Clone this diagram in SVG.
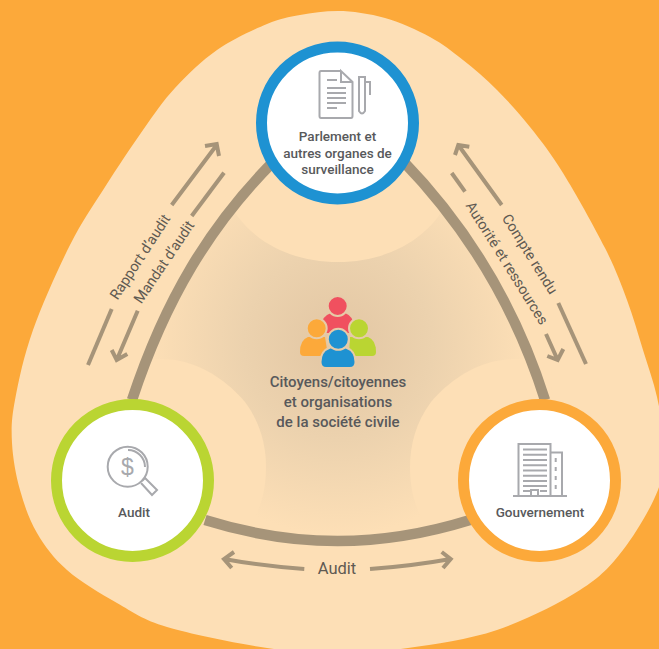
<svg xmlns="http://www.w3.org/2000/svg" width="659" height="649" viewBox="0 0 659 649">
<style>
.t{font-family:Roboto,"Noto Sans","Liberation Sans",sans-serif;fill:#58595b;text-anchor:middle}
.n{font-size:13.5px;font-weight:500}
.c{font-size:15px;font-weight:500}
.l{font-size:14.5px;fill:#5f5a52}
.a{fill:none;stroke:#a69479;stroke-width:4}
.b{fill:none;stroke:#a69479;stroke-width:10.5}
.i{fill:none;stroke:#a8a9ad;stroke-width:2}
.r{fill:#fff;stroke-width:11}
</style>
<defs>
<radialGradient id="g" gradientUnits="userSpaceOnUse" cx="338" cy="345" r="190">
<stop offset="0" stop-color="#e2c6a3"/>
<stop offset="0.5" stop-color="#ecd2ae"/>
<stop offset="1" stop-color="#fddfb6"/>
</radialGradient>
</defs>
<rect width="659" height="649" fill="#fca93a"/>
<path id="backdrop" fill="#fddfb6" d="M338,11 C352,11 369.700,13.700 385,18 C400.300,22.300 417,30 430,37 C443,44 451.800,51.200 463,60 C474.200,68.800 485.800,78.800 497,90 C508.200,101.200 519,113.200 530,127 C541,140.800 550.500,152.800 563,173 C575.500,193.200 594.300,226.800 605,248 C615.700,269.200 620.700,283 627,300 C633.300,317 638,333.800 643,350 C648,366.200 653.500,381.200 657,397 C660.500,412.800 663.800,429.500 664,445 C664.200,460.500 664.800,472.500 658,490 C651.200,507.500 636,533.300 623,550 C610,566.700 601,576.700 580,590 C559,603.300 525.700,620.300 497,630 C468.300,639.700 434.500,644.200 408,648 C381.500,651.800 361.500,653 338,653 C314.500,653 295.500,652.300 267,648 C238.500,643.700 192,634.500 167,627 C142,619.500 133.700,612.500 117,603 C100.300,593.500 80.300,581.700 67,570 C53.700,558.300 44.800,546.300 37,533 C29.200,519.700 24.200,505 20,490 C15.800,475 12.800,458 12,443 C11.200,428 11.500,418.800 15,400 C18.500,381.200 23.800,355.800 33,330 C42.200,304.200 58,268.800 70,245 C82,221.200 92.800,206.200 105,187 C117.200,167.800 131.300,146.500 143,130 C154.700,113.500 162.700,101.300 175,88 C187.300,74.700 201.700,60.700 217,50 C232.300,39.300 253.200,29.800 267,24 C280.800,18.200 288.200,17.200 300,15 C311.800,12.800 324,11 338,11 Z"/>
<path id="centre" fill="url(#g)" d="M132,400 C165,300 210,225 275,160 L402,160 C465,225 515,305 545,400 L470,520 C380,548 295,548 205,520 Z"/>
<g id="lobes" fill="#fddfb6">
<path d="M225,195 C245,240 290,262 338,262 C386,262 431,240 451,195 L338,130 Z"/>
<path d="M125,365 C145,358 165,358 180,361 C205,366 228,382 245,402 C260,422 266,445 266,467 C266,490 261,508 250,526 L120,490 Z"/>
<path d="M551,365 C531,358 511,358 496,361 C471,366 448,382 431,402 C416,422 410,445 410,467 C410,490 415,508 426,526 L556,490 Z"/>
</g>
<g id="connectors">
<path class="b" d="M132,400 C165,300 210,225 275,160"/>
<path class="b" d="M402,160 C465,225 515,305 545,400"/>
<path class="b" d="M205,520 C295,548 380,548 470,520"/>
<path class="a" d="M111.700,309 L88,365"/>
<path class="a" d="M171.700,205 L216.700,145 M205,146 L216.700,144 L219,156"/>
<path class="a" d="M224,172.700 L191.700,216"/>
<path class="a" d="M137.700,310.700 L116.700,360 M111.700,350 L116.700,360 L127.300,354"/>
<path class="a" d="M501.700,205 L458.300,145 M455,155 L458.300,145 L469.300,146.700"/>
<path class="a" d="M558.300,303 L586,364"/>
<path class="a" d="M451.700,173 L465,191.700"/>
<path class="a" d="M546,334 L557.700,360 M547.300,356 L557.700,360 L563.300,349"/>
<path class="a" d="M304.300,569 Q262,566 224,559 M234,552 L224,559 L231.700,568"/>
<path class="a" d="M370,569 Q412,566 450.700,559 M441.700,552 L450.700,559 L443,568"/>
<text class="t l" transform="translate(140,257) rotate(-57)" y="5">Rapport d’audit</text>
<text class="t l" transform="translate(164,262) rotate(-56)" y="5">Mandat d’audit</text>
<text class="t l" transform="translate(530,254) rotate(58)" y="5">Compte rendu</text>
<text class="t l" transform="translate(507,263) rotate(58)" y="5">Autorité et ressources</text>
<text class="t l" x="337" y="574" style="font-size:16.500px">Audit</text>
</g>
<g id="node-parlement">
<circle class="r" cx="337.500" cy="123" r="76" stroke="#1e92d2"/>
<path class="i" d="M341,71 H321 Q319.500,71 319.500,73 V116 Q319.500,118 321,118 H351 Q352.500,118 352.500,116 V82 L341,71 V82 H352.500"/>
<path class="i" d="M327,80 H337 M327,88 H346 M327,93 H346 M327,98 H346 M327,103 H346 M327,108 H337"/>
<path class="i" d="M359,77 H365 V111 Q362,116 359,111 Z M365,82 H370 V95"/>
<text class="t n" x="337.500" y="141">Parlement et</text>
<text class="t n" x="337.500" y="157.500">autres organes de</text>
<text class="t n" x="337.500" y="174">surveillance</text>
</g>
<g id="node-audit">
<circle class="r" cx="132.500" cy="480.500" r="76" stroke="#bad532"/>
<circle class="i" cx="127.700" cy="466.700" r="20"/>
<path class="i" d="M128,450 A17,17 0 0 1 145,467"/>
<path class="i" d="M142,481 L145,478 L157,490 L152,495 L141,483"/>
<text x="127.500" y="475" text-anchor="middle" style="font-family:'Liberation Sans',sans-serif;font-size:23px;fill:#a8a9ad">$</text>
<text class="t n" x="134" y="516.500">Audit</text>
</g>
<g id="node-gouvernement">
<circle class="r" cx="539.500" cy="480.500" r="76" stroke="#fca93a"/>
<path class="i" d="M518.500,496 V444 H550.500 V496 M550.500,452.500 H562 V496 M513,496 H567"/>
<path class="i" d="M523,449.500 H547 M523,454.800 H547 M523,460 H547 M523,465.200 H547 M523,470.500 H547 M523,475.700 H547 M523,481 H547 M523,486 H547 M523,491 H530 M540,491 H547 M531,496 V490 H538 V496"/>
<path class="i" d="M555.700,458 V492" stroke-dasharray="4,5"/>
<text class="t n" x="540" y="516.500">Gouvernement</text>
</g>
<g id="node-citoyens">
<g stroke="#e6cba8" stroke-width="2">
<path fill="#f0505f" stroke="none" d="M321,333 V326 Q322,316 331,313 H345 Q353,316 354,326 V333 Z"/>
<circle fill="#f0505f" cx="337.700" cy="306" r="10"/>
<path fill="#fca93a" stroke="none" d="M300,352 Q300,340 308,337 H325 L328,356 H304 Q300,356 300,352 Z"/>
<circle fill="#fca93a" cx="316.700" cy="328.300" r="10"/>
<path fill="#bad532" stroke="none" d="M376,352 Q376,340 368,337 H350 L349,356 H372 Q376,356 376,352 Z"/>
<circle fill="#bad532" cx="359" cy="328.300" r="10"/>
<path fill="#1e92d2" d="M320.500,362 Q320.500,351 330,347.500 H346 Q355.500,351 355.500,362 Q355.500,368 350,368 H326 Q320.500,368 320.500,362 Z"/>
<circle fill="#1e92d2" cx="338.300" cy="339.300" r="10.500"/>
</g>
<text class="t c" x="338" y="387">Citoyens/citoyennes</text>
<text class="t c" x="338" y="406.700">et organisations</text>
<text class="t c" x="338" y="426.700">de la société civile</text>
</g>
</svg>
